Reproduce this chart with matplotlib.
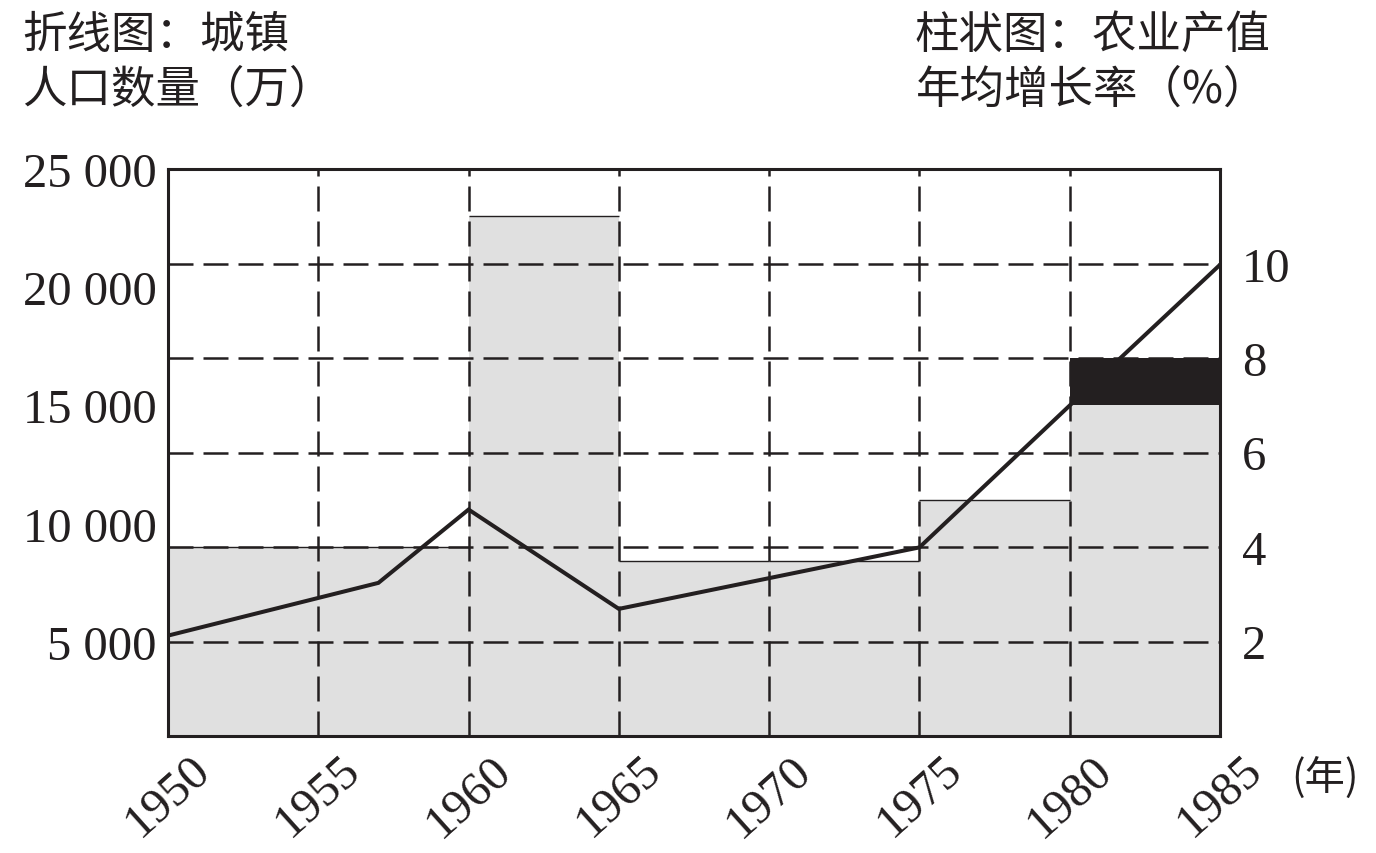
import matplotlib
matplotlib.use("Agg")
import matplotlib.pyplot as plt

# data
bar_start = [1950, 1955, 1960, 1965, 1970, 1975, 1980]
growth = [4, 4, 11, 3.7, 3.7, 5, 7]          # 农业产值年均增长率 (%)
growth_extra = [0, 0, 0, 0, 0, 0, 1]          # black part on top
pop_years = [1950, 1957, 1960, 1965, 1975, 1980, 1985]
pop = [5270, 7500, 10600, 6400, 9000, 15000, 20950]   # 城镇人口数量 (万)

left_ticks = [5000, 10000, 15000, 20000, 25000]
right_ticks = [2, 4, 6, 8, 10]
year_ticks = [1950, 1955, 1960, 1965, 1970, 1975, 1980, 1985]

ink = "#231f20"
cjk = ["Noto Sans CJK SC", "DejaVu Sans"]
plt.rcParams["font.family"] = ["Liberation Serif", "Noto Sans CJK SC"]

fig = plt.figure(figsize=(13.76, 8.54), dpi=100)
ax = fig.add_axes([168 / 1376, 117 / 854, 1052 / 1376, 567 / 854])

# bars on the right-hand scale
ax.bar(bar_start, growth, width=5, align="edge", color="#e0e0e0", zorder=1)
ax.bar(bar_start, growth_extra, width=5, align="edge", bottom=growth,
       color=ink, zorder=1)
for x0, h, e in zip(bar_start, growth, growth_extra):
    if e == 0:
        ax.hlines(h, x0, x0 + 5, color=ink, lw=1.0, zorder=2)

ax.set_xlim(1950, 1985)
ax.set_ylim(0, 12)

# dashed grid
for v in right_ticks:
    ax.axhline(v, color=ink, lw=1.8, ls=(0, (10, 4)), zorder=3)
for yr in year_ticks[1:-1]:
    ax.axvline(yr, color=ink, lw=1.8, ls=(0, (10, 4)), zorder=3)

for s in ax.spines.values():
    s.set_linewidth(2.2)
    s.set_color(ink)

# line on the left-hand scale
ax2 = ax.twinx()
ax2.plot(pop_years, pop, color=ink, lw=2.9, solid_joinstyle="miter", zorder=5)
ax2.set_ylim(1025, 25000)
ax2.yaxis.tick_left()
ax2.set_yticks(left_ticks)
ax2.set_yticklabels([f"{v:,}".replace(",", " ") for v in left_ticks])
ax2.tick_params(axis="y", length=0, labelsize=35, colors=ink, pad=8)
for s in ax2.spines.values():
    s.set_visible(False)

ax.yaxis.tick_right()
ax.set_yticks(right_ticks)
ax.set_yticklabels([str(v) for v in right_ticks])
ax.set_xticks(year_ticks)
ax.set_xticklabels([str(v) for v in year_ticks], rotation=42, ha="center", va="top")
ax.tick_params(axis="both", length=0, colors=ink)
ax.tick_params(axis="y", pad=16, labelsize=35)
ax.tick_params(axis="x", pad=8, labelsize=35)

# titles
fig.text(22 / 1376, 1 - 35 / 854, "折线图：城镇", family=cjk, fontsize=32,
         ha="left", va="center", color=ink)
fig.text(22 / 1376, 1 - 90 / 854, "人口数量（万）", family=cjk, fontsize=32,
         ha="left", va="center", color=ink)
fig.text(1092 / 1376, 1 - 35 / 854, "柱状图：农业产值", family=cjk, fontsize=32,
         ha="center", va="center", color=ink)
fig.text(1092 / 1376, 1 - 90 / 854, "年均增长率（%）", family=cjk, fontsize=32,
         ha="center", va="center", color=ink)
fig.text(1325 / 1376, 1 - 778 / 854, "(年)", family=cjk, fontsize=29,
         ha="center", va="center", color=ink)

fig.savefig("out.png", dpi=100)
